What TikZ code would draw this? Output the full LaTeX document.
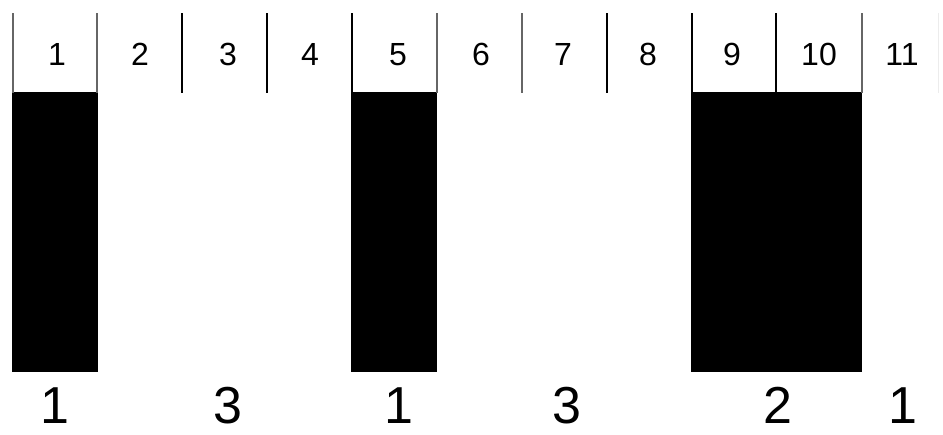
\documentclass[tikz,border=0pt]{standalone}
\usepackage{fontspec}
\setmainfont{Liberation Sans}
\begin{document}
\begin{tikzpicture}[x=1pt,y=-1pt,
  sep/.style={line width=2pt,black},
  sepg/.style={line width=2pt,gray!80!black},
  bar/.style={fill=black,draw=none},
  toplab/.style={anchor=base,inner sep=0pt,font=\fontsize{32}{32}\selectfont},
  botlab/.style={anchor=base,inner sep=0pt,font=\fontsize{52}{52}\selectfont}]
\useasboundingbox[fill=white] (0,0) rectangle (943,434);
% black bars
\fill[bar] (12,92) rectangle (98,372);
\fill[bar] (351,92) rectangle (437,372);
\fill[bar] (691,92) rectangle (862,372);
% separators
\draw[sepg] (13,13) -- (13,93);
\draw[sepg] (97,13) -- (97,93);
\draw[sep] (182,13) -- (182,93);
\draw[sep] (267,13) -- (267,93);
\draw[sep] (352,13) -- (352,93);
\draw[sepg] (437,13) -- (437,93);
\draw[sepg] (522,13) -- (522,93);
\draw[sep] (607,13) -- (607,93);
\draw[sep] (692,13) -- (692,93);
\draw[sep] (776,13) -- (776,93);
\draw[sepg] (862,13) -- (862,93);
\draw[line width=1pt,gray!15] (938,13) -- (938,93);
% top labels
\node[toplab] (t1) at (57,65) {1};
\node[toplab] (t2) at (140,65) {2};
\node[toplab] (t3) at (228,65) {3};
\node[toplab] (t4) at (310,65) {4};
\node[toplab] (t5) at (398,65) {5};
\node[toplab] (t6) at (481,65) {6};
\node[toplab] (t7) at (563,65) {7};
\node[toplab] (t8) at (648,65) {8};
\node[toplab] (t9) at (732,65) {9};
\node[toplab] (t10) at (819,65) {10};
\node[toplab] (t11) at (902,65) {11};
% bottom labels
\node[botlab] (b1) at (55,423) {1};
\node[botlab] (b2) at (228,423) {3};
\node[botlab] (b3) at (399,423) {1};
\node[botlab] (b4) at (567,423) {3};
\node[botlab] (b5) at (778,423) {2};
\node[botlab] (b6) at (903,423) {1};
\end{tikzpicture}
\end{document}
